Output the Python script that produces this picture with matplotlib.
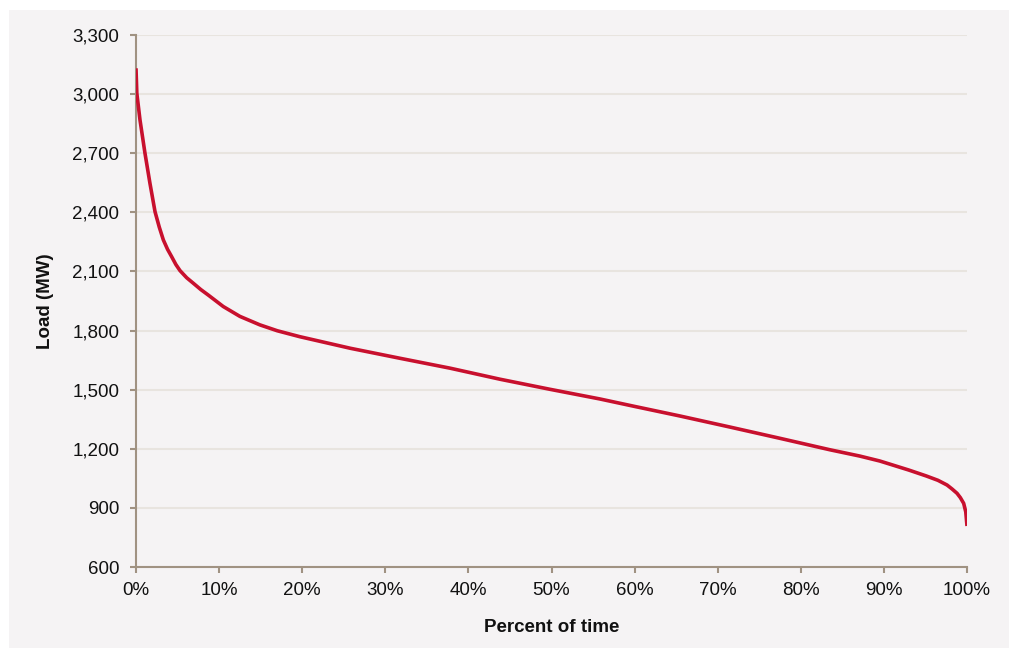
import matplotlib
matplotlib.use("Agg")
import matplotlib.pyplot as plt
from matplotlib.patches import Rectangle
from matplotlib.ticker import FuncFormatter

plt.rcParams['font.family'] = ['Liberation Sans', 'DejaVu Sans']

# Load duration curve
percent_time = [0, 0.1, 0.48, 1.08, 1.68, 2.29, 2.8, 3.29, 3.8, 4.29, 4.8, 5.3, 6.1, 6.9,
                7.8, 8.7, 10.5, 12.5, 14.9, 17.0, 19.7, 25.8, 31.8, 37.8, 43.8, 49.8, 55.8,
                60.0, 65.5, 71.5, 77.5, 83.5, 87.1, 89.5, 91.1, 93.0, 95.1, 96.5, 97.6,
                98.2, 98.8, 99.2, 99.6, 99.85, 100]
load_mw = [3131, 3004, 2869, 2700, 2547, 2403, 2325, 2260, 2212, 2175, 2135, 2104, 2068, 2040,
           2008, 1980, 1922, 1872, 1829, 1799, 1769, 1710, 1659, 1609, 1553, 1502, 1453,
           1415, 1366, 1310, 1253, 1195, 1163, 1138, 1117, 1092, 1062, 1040, 1016,
           996, 974, 952, 923, 880, 808]

y_ticks = [600, 900, 1200, 1500, 1800, 2100, 2400, 2700, 3000, 3300]
x_ticks = [0, 10, 20, 30, 40, 50, 60, 70, 80, 90, 100]

W, H = 1009, 648
fig = plt.figure(figsize=(W / 100, H / 100), dpi=100)
fig.patch.set_facecolor('white')
panel_color = '#f5f3f4'
fig.add_artist(Rectangle((9 / W, 0), 1 - 9 / W, (H - 10) / H, transform=fig.transFigure,
                         facecolor=panel_color, edgecolor='none', zorder=-5))

ax = fig.add_axes([136 / W, 1 - 567 / H, (967 - 136) / W, (567 - 35) / H])
ax.set_facecolor(panel_color)

axis_col = '#a09282'
grid_col = '#e8e4df'

ax.plot(percent_time, load_mw, color='#c8102e', lw=2.6, solid_capstyle='butt',
        solid_joinstyle='round', zorder=3)

ax.set_xlim(0, 100)
ax.set_ylim(600, 3300)
ax.set_xticks(x_ticks)
ax.set_yticks(y_ticks)
ax.xaxis.set_major_formatter(FuncFormatter(lambda v, p: f"{int(v)}%"))
ax.yaxis.set_major_formatter(FuncFormatter(lambda v, p: f"{int(v):,}"))

ax.grid(axis='y', color=grid_col, lw=1.5, zorder=0)
ax.set_axisbelow(True)
for s in ['top', 'right']:
    ax.spines[s].set_visible(False)
for s in ['left', 'bottom']:
    ax.spines[s].set_color(axis_col)
    ax.spines[s].set_linewidth(1.5)

ax.tick_params(axis='both', colors=axis_col, length=4, width=1.5, labelsize=13.5,
               labelcolor='#111111')
ax.tick_params(axis='y', pad=8)
ax.tick_params(axis='x', pad=7)

ax.set_xlabel('Percent of time', fontsize=13.5, fontweight='bold', labelpad=14, color='#111111')
ax.set_ylabel('Load (MW)', fontsize=13.5, fontweight='bold', labelpad=13, color='#111111')

fig.savefig('out.png', dpi=100, facecolor=fig.get_facecolor())
